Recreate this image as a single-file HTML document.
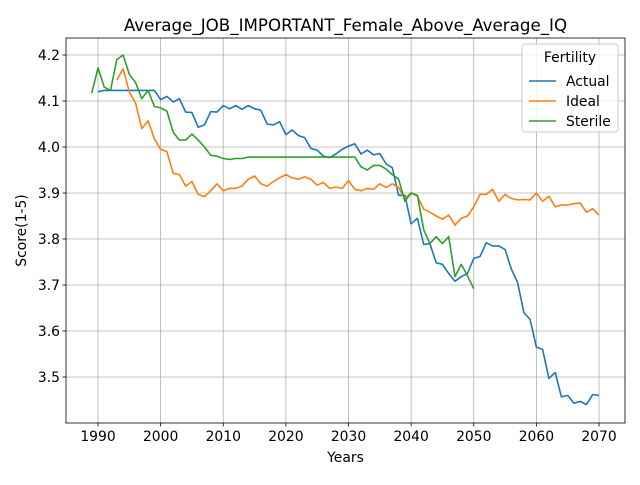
<!DOCTYPE html>
<html><head><meta charset="utf-8"><style>body{margin:0;background:#fff}svg{font-family:"DejaVu Sans","Liberation Sans",sans-serif}</style></head>
<body>
<svg id="chart" width="640" height="480" xmlns="http://www.w3.org/2000/svg"></svg>
<script>
const actualYears=[1990,2070];
const actualValues=[4.12,4.123,4.123,4.123,4.123,4.123,4.123,4.123,4.123,4.123,4.103,4.11,4.098,4.105,4.076,4.075,4.043,4.048,4.077,4.076,4.09,4.083,4.09,4.082,4.09,4.083,4.08,4.05,4.048,4.055,4.027,4.037,4.025,4.02,3.997,3.993,3.98,3.977,3.985,3.995,4.002,4.007,3.985,3.993,3.983,3.986,3.963,3.955,3.895,3.895,3.833,3.845,3.788,3.79,3.748,3.745,3.725,3.708,3.718,3.725,3.758,3.762,3.792,3.785,3.785,3.777,3.735,3.705,3.64,3.625,3.565,3.56,3.497,3.51,3.457,3.46,3.443,3.447,3.44,3.462,3.46];
const idealStart=1993;
const idealValues=[4.145,4.17,4.12,4.095,4.04,4.057,4.018,3.995,3.99,3.943,3.94,3.915,3.925,3.897,3.892,3.905,3.92,3.905,3.91,3.91,3.915,3.93,3.937,3.92,3.915,3.925,3.933,3.94,3.933,3.93,3.935,3.93,3.917,3.923,3.91,3.913,3.91,3.927,3.908,3.905,3.91,3.908,3.92,3.912,3.92,3.912,3.888,3.9,3.893,3.865,3.858,3.85,3.843,3.852,3.83,3.845,3.85,3.87,3.897,3.897,3.908,3.882,3.897,3.888,3.885,3.886,3.885,3.9,3.882,3.893,3.87,3.874,3.874,3.877,3.878,3.858,3.866,3.852];
const sterileStart=1989;
const sterileValues=[4.117,4.172,4.13,4.123,4.19,4.2,4.158,4.14,4.105,4.123,4.088,4.085,4.078,4.032,4.015,4.015,4.028,4.015,4.0,3.982,3.98,3.975,3.973,3.975,3.975,3.978,3.978,3.978,3.978,3.978,3.978,3.978,3.978,3.978,3.978,3.978,3.978,3.978,3.978,3.978,3.978,3.978,3.978,3.957,3.95,3.96,3.96,3.952,3.94,3.93,3.882,3.9,3.895,3.82,3.79,3.805,3.79,3.805,3.718,3.745,3.72,3.692];
const xTicks=[1990,2000,2010,2020,2030,2040,2050,2060,2070];
const yTicks=[3.5,3.6,3.7,3.8,3.9,4.0,4.1,4.2];
const L=66,R=625,T=38,B=423,X0=1984.89,X1=2074.15,Y0=3.4,Y1=4.237;
const xs=v=>L+(v-X0)/(X1-X0)*(R-L), ys=v=>B-(v-Y0)/(Y1-Y0)*(B-T);
const svg=document.getElementById('chart');const NS='http://www.w3.org/2000/svg';
function mk(t,a,p){const e=document.createElementNS(NS,t);for(const k in a)e.setAttribute(k,a[k]);(p||svg).appendChild(e);return e;}
xTicks.forEach(v=>{const x=xs(v);
const g=mk('line',{x1:x,x2:x,y1:T,y2:B,stroke:'#b0b0b0','stroke-width':0.8});
mk('line',{x1:x,x2:x,y1:B,y2:B+3.5,stroke:'#000','stroke-width':0.8});
const t=mk('text',{x:x,y:B+18,'text-anchor':'middle','font-size':13.9});t.textContent=v;});
yTicks.forEach(v=>{const y=ys(v);
const g=mk('line',{x1:L,x2:R,y1:y,y2:y,stroke:'#b0b0b0','stroke-width':0.8});
mk('line',{x1:L-3.5,x2:L,y1:y,y2:y,stroke:'#000','stroke-width':0.8});
const t=mk('text',{x:L-6,y:y+5,'text-anchor':'end','font-size':13.9});t.textContent=v.toFixed(1);});
function series(start,vals,color,name){const pts=vals.map((v,i)=>xs(start+i).toFixed(1)+','+ys(v).toFixed(1)).join(' ');
const p=mk('polyline',{points:pts,fill:'none',stroke:color,'stroke-width':1.6,'stroke-linejoin':'round'});}
series(actualYears[0],actualValues,'#1f77b4','actual-line');
series(idealStart,idealValues,'#ff7f0e','ideal-line');
series(sterileStart,sterileValues,'#2ca02c','sterile-line');
const fr=mk('rect',{x:L,y:T,width:R-L,height:B-T,fill:'none',stroke:'#000','stroke-width':0.8});
const ti=mk('text',{x:(L+R)/2,y:T-7,'text-anchor':'middle','font-size':16.7});ti.textContent='Average_JOB_IMPORTANT_Female_Above_Average_IQ';
const xl=mk('text',{x:(L+R)/2,y:462,'text-anchor':'middle','font-size':13.9});xl.textContent='Years';
const yl=mk('text',{x:0,y:0,'text-anchor':'middle','font-size':13.9,transform:'translate(26,'+((T+B)/2)+') rotate(-90)'});yl.textContent='Score(1-5)';
const lg=mk('g',{});
mk('rect',{x:522,y:44,width:96,height:88,rx:3,fill:'#fff','fill-opacity':0.8,stroke:'#ccc'},lg);
const lt=mk('text',{x:570,y:62,'text-anchor':'middle','font-size':13.9},lg);lt.textContent='Fertility';
[['Actual','#1f77b4'],['Ideal','#ff7f0e'],['Sterile','#2ca02c']].forEach((d,i)=>{const y=81+i*20;
const e=mk('g',{},lg);
mk('line',{x1:529,x2:556,y1:y,y2:y,stroke:d[1],'stroke-width':1.6},e);
const t=mk('text',{x:566,y:y+5,'font-size':13.9},e);t.textContent=d[0];});
</script>
</body></html>
